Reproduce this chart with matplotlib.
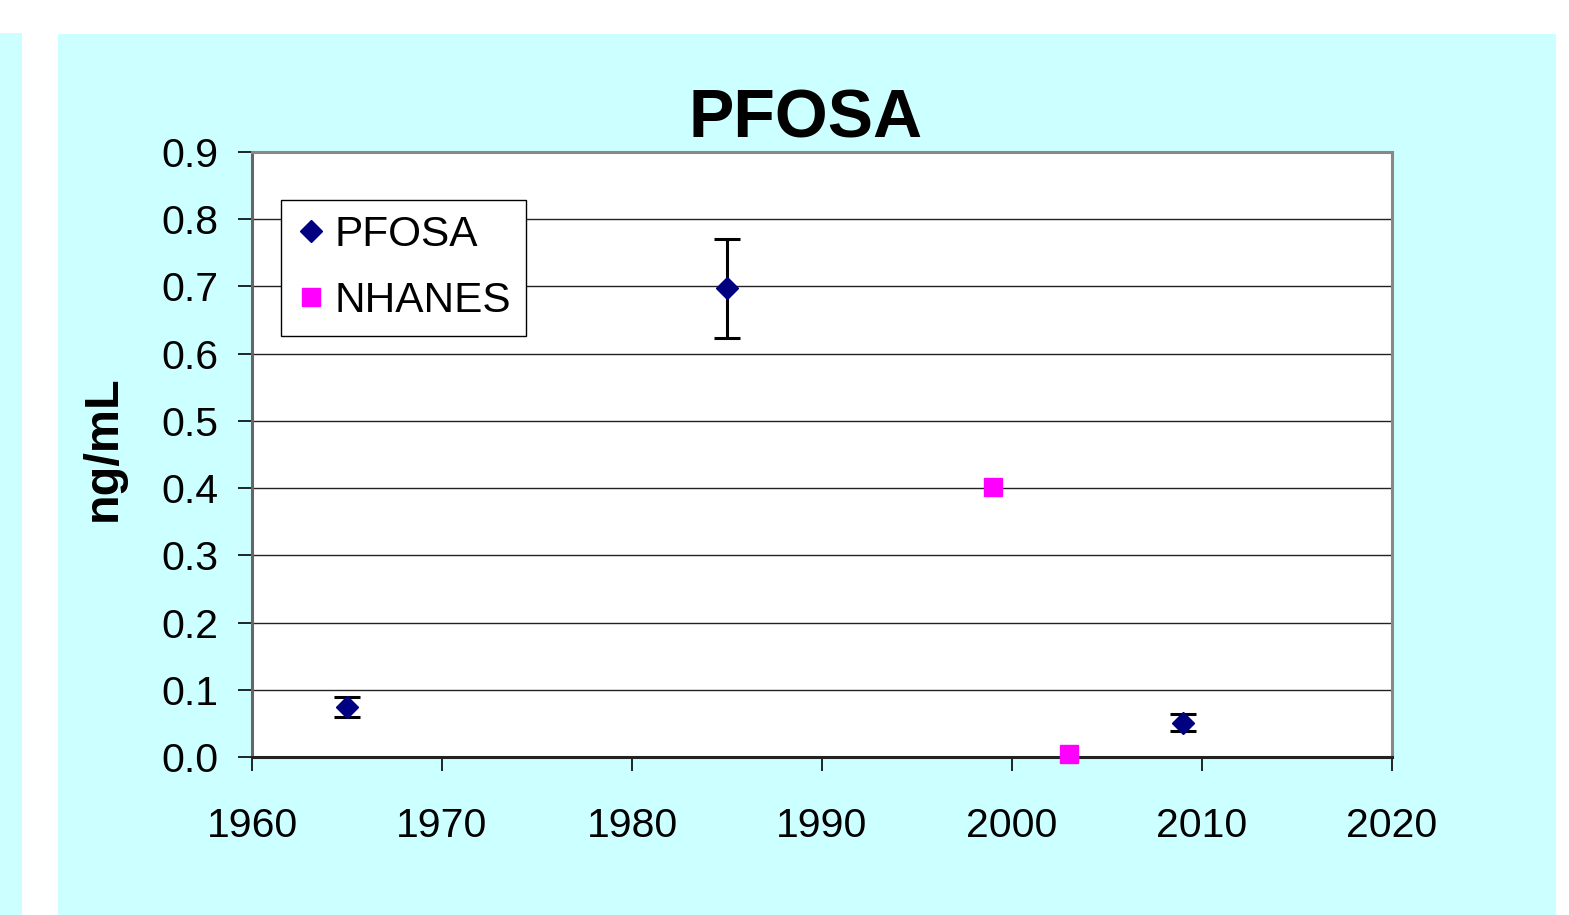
import matplotlib.pyplot as plt
from matplotlib.patches import Rectangle

plt.rcParams['font.family'] = ['Liberation Sans', 'DejaVu Sans']

# PFOSA measurements (year, ng/mL, error)
pfosa_year = [1965, 1985, 2009]
pfosa_val = [0.074, 0.697, 0.051]
pfosa_err = [0.015, 0.073, 0.013]

# NHANES reference values
nhanes_year = [1999, 2003]
nhanes_val = [0.401, 0.004]

yticks = [0.0, 0.1, 0.2, 0.3, 0.4, 0.5, 0.6, 0.7, 0.8, 0.9]
xticks = [1960, 1970, 1980, 1990, 2000, 2010, 2020]

W, H = 1569, 915
fig = plt.figure(figsize=(W / 100, H / 100), dpi=100)
fig.patch.set_facecolor('white')

cyan = '#CCFFFF'
# slide background panels
fig.patches.append(Rectangle((0, 0), 22 / W, (H - 33) / H, transform=fig.transFigure,
                             facecolor=cyan, edgecolor='none', zorder=-5))
fig.patches.append(Rectangle((58 / W, 0), (1556 - 58) / W, (H - 34) / H, transform=fig.transFigure,
                             facecolor=cyan, edgecolor='none', zorder=-5))

ax = fig.add_axes([252 / W, (H - 757) / H, (1392 - 252) / W, (757 - 152) / H])
ax.set_zorder(2)
ax.set_facecolor('white')

ax.errorbar(pfosa_year, pfosa_val, yerr=pfosa_err, fmt='none', ecolor='black',
            elinewidth=2.2, capsize=9.5, capthick=2.2, zorder=3)
ax.plot(pfosa_year, pfosa_val, linestyle='none', marker='D', markersize=11.5,
        color='#000080', label='PFOSA', zorder=4)
ax.plot(nhanes_year, nhanes_val, linestyle='none', marker='s', markersize=13.5,
        color='#FF00FF', label='NHANES', zorder=4, clip_on=False)

ax.set_xlim(1960, 2020)
ax.set_ylim(0, 0.9)
ax.set_xticks(xticks)
ax.set_yticks(yticks)
ax.set_yticklabels([f'{v:.1f}' for v in yticks])
ax.yaxis.grid(True, color='#222222', linewidth=1.0)
ax.set_axisbelow(True)

ax.tick_params(axis='both', direction='out', length=10, width=1.2, color='black',
               labelsize=29.5)
ax.tick_params(axis='y', pad=14)
ax.tick_params(axis='x', pad=26)

for side in ['top', 'right']:
    ax.spines[side].set_color('#888888')
    ax.spines[side].set_linewidth(2.2)
ax.spines['left'].set_color('#666666')
ax.spines['left'].set_linewidth(2.2)
ax.spines['bottom'].set_color('#222222')
ax.spines['bottom'].set_linewidth(2.2)

ax.set_ylabel('ng/mL', fontsize=35, fontweight='bold', labelpad=26)
ax.yaxis.label.set_y(0.51)

fig.text(806 / W, (H - 137) / H, 'PFOSA', fontsize=49, fontweight='bold',
         ha='center', va='baseline')

leg = ax.legend(loc='upper left', bbox_to_anchor=((281 - 252) / 1140, (757 - 200) / 605),
                borderaxespad=0, fontsize=30.5, fancybox=False, framealpha=1,
                edgecolor='black', handlelength=0.7, handletextpad=0.22,
                labelspacing=0.62, borderpad=0.35, numpoints=1)
leg.get_frame().set_linewidth(1.0)

fig.savefig('out.png', dpi=100, facecolor=fig.get_facecolor())
